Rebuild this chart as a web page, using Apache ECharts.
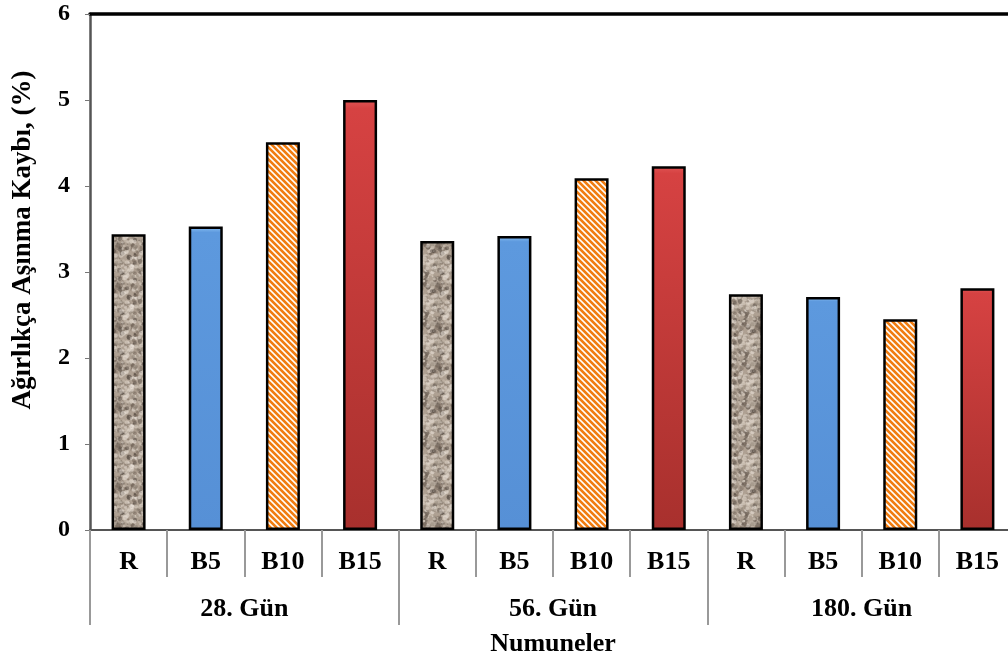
<!DOCTYPE html>
<html>
<head>
<meta charset="utf-8">
<script src="https://cdn.jsdelivr.net/npm/echarts@6/dist/echarts.min.js"></script>
<style>
html,body{margin:0;padding:0;background:#fff;overflow:hidden;}
#chart{width:1008px;height:664px;}
</style>
</head>
<body>
<div id="chart"></div>
<script>
// ---- data ----
var samples = ['R', 'B5', 'B10', 'B15'];
var groups = ['28. Gün', '56. Gün', '180. Gün'];
var values28 = [3.44, 3.53, 4.51, 5.00];
var values56 = [3.36, 3.42, 4.09, 4.23];
var values180 = [2.74, 2.71, 2.45, 2.81];
var yTicks = [0, 1, 2, 3, 4, 5, 6];
var yName = 'Ağırlıkça Aşınma Kaybı, (%)';
var xName = 'Numuneler';

// ---- textures ----
function graniteCanvas() {
  var n = 40;
  var c = document.createElement('canvas');
  c.width = n; c.height = n;
  var g = c.getContext('2d');
  g.fillStyle = '#ae a092'.replace(' ', '');
  g.fillRect(0, 0, n, n);
  var s = 98765;
  function rnd() { s = (s * 1103515245 + 12345) % 2147483648; return s / 2147483648; }
  var cols = ['rgba(120,105,92,0.55)', 'rgba(220,210,199,0.6)', 'rgba(80,70,62,0.5)',
              'rgba(200,188,175,0.6)', 'rgba(150,138,126,0.55)', 'rgba(235,228,219,0.5)'];
  for (var i = 0; i < 260; i++) {
    g.fillStyle = cols[Math.floor(rnd() * cols.length)];
    var x = rnd() * n, y = rnd() * n, r = 0.8 + rnd() * 1.8;
    for (var dx = -n; dx <= n; dx += n) {
      for (var dy = -n; dy <= n; dy += n) {
        g.beginPath();
        g.arc(x + dx, y + dy, r, 0, Math.PI * 2);
        g.fill();
      }
    }
  }
  return c;
}
function stripeCanvas() {
  var n = 6;
  var c = document.createElement('canvas');
  c.width = n; c.height = n;
  var g = c.getContext('2d');
  for (var y = 0; y < n; y++) {
    for (var x = 0; x < n; x++) {
      var k = ((x - y) % n + n) % n;
      g.fillStyle = k < 3 ? '#f07d12' : (k === 3 || k === 5 ? '#fbd2aa' : '#ffffff');
      g.fillRect(x, y, 1, 1);
    }
  }
  return c;
}

var styles = [
  { color: { image: graniteCanvas(), repeat: 'repeat' } },
  { color: { type: 'linear', x: 0, y: 0, x2: 0, y2: 1, colorStops: [
      { offset: 0, color: '#8cc2f4' }, { offset: 0.02, color: '#5d99de' }, { offset: 1, color: '#5690d6' }] } },
  { color: { image: stripeCanvas(), repeat: 'repeat' } },
  { color: { type: 'linear', x: 0, y: 0, x2: 0, y2: 1, colorStops: [
      { offset: 0, color: '#e05555' }, { offset: 0.02, color: '#d64242' }, { offset: 1, color: '#a8302d' }] } }
];

var categories = [];
var barData = [];
var allValues = [values28, values56, values180];
for (var gi = 0; gi < groups.length; gi++) {
  for (var si = 0; si < samples.length; si++) {
    categories.push(samples[si]);
    barData.push({
      value: allValues[gi][si],
      itemStyle: Object.assign({ borderColor: '#000', borderWidth: 2.5 }, styles[si])
    });
  }
}

var font = 'Liberation Serif';
var chart = echarts.init(document.getElementById('chart'), null, { renderer: 'canvas' });
chart.setOption({
  animation: false,
  backgroundColor: '#ffffff',
  grid: { left: 90, top: 14, right: -8, bottom: 134, containLabel: false, outerBoundsMode: 'none' },
  xAxis: [
    {
      type: 'category', data: categories, position: 'bottom',
      axisLine: { show: true, lineStyle: { color: '#555', width: 2 } },
      axisTick: { show: true, length: 47, lineStyle: { color: '#999', width: 2 } },
      axisLabel: { margin: 19, color: '#000', fontFamily: font, fontWeight: 'bold', fontSize: 26 },
      splitLine: { show: false }
    },
    {
      type: 'category', data: groups, position: 'bottom',
      axisLine: { show: false },
      axisTick: { show: true, length: 95, lineStyle: { color: '#999', width: 2 } },
      axisLabel: { margin: 66, color: '#000', fontFamily: font, fontWeight: 'bold', fontSize: 26 },
      name: xName, nameLocation: 'middle', nameGap: 101,
      nameTextStyle: { color: '#000', fontFamily: font, fontWeight: 'bold', fontSize: 26 },
      splitLine: { show: false }
    },
    {
      type: 'category', data: groups, position: 'top',
      axisLine: { show: true, lineStyle: { color: '#000', width: 3.5 } },
      axisTick: { show: false }, axisLabel: { show: false }, splitLine: { show: false }
    }
  ],
  yAxis: {
    type: 'value', min: yTicks[0], max: yTicks[yTicks.length - 1], interval: 1,
    name: yName, nameLocation: 'middle', nameGap: 53,
    nameTextStyle: { color: '#000', fontFamily: font, fontWeight: 'bold', fontSize: 27, padding: [0, 0, 0, 64] },
    axisLine: { show: true, lineStyle: { color: '#555', width: 2.5 } },
    axisTick: { show: true, length: 5, lineStyle: { color: '#777', width: 1 } },
    axisLabel: { margin: 20, color: '#000', fontFamily: font, fontWeight: 'bold', fontSize: 24 },
    splitLine: { show: false }
  },
  series: [{
    type: 'bar', xAxisIndex: 0, data: barData, barWidth: 34
  }]
});
</script>
</body>
</html>
